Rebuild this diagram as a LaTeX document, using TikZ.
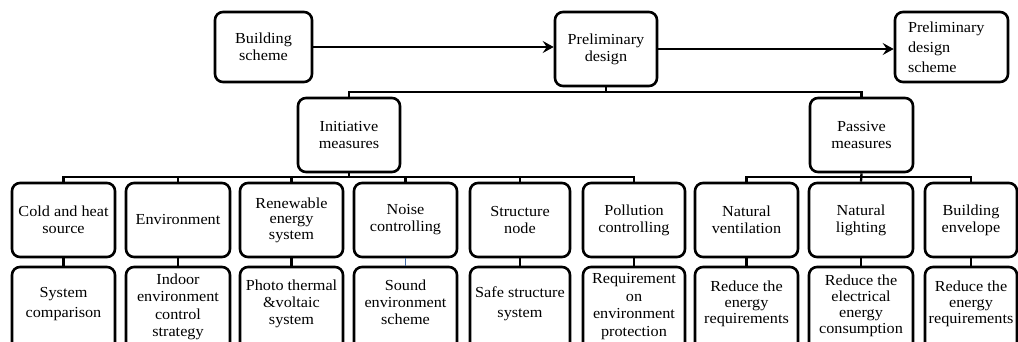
\documentclass[tikz,border=0pt]{standalone}
\usepackage{fontspec}
\setmainfont{Liberation Serif}[FakeStretch=1.06]
\usetikzlibrary{arrows.meta}
\newcommand\fsz[1]{\fontsize{15.3}{#1}\selectfont}
\definecolor{ticblue}{RGB}{70,110,170}
\tikzset{
  box/.style={draw, line width=2.6pt, rounded corners=8pt, align=center, inner sep=2pt, font=\fsz{17}},
  rowone/.style={box, minimum height=74pt},
  rowtwo/.style={box, minimum height=90pt, text depth=19pt},
  link/.style={line width=2.3pt},
  arr/.style={line width=2.8pt, -{Stealth[length=11pt,width=12pt,inset=4pt]}}
}
\begin{document}
\begin{tikzpicture}[x=1pt,y=-1pt]
\useasboundingbox (0,0) rectangle (1018,341);
\clip (0,0) rectangle (1018,341);
% top row
\node[box, minimum width=97pt, minimum height=70pt] (bs) at (263.5,47) {Building\\scheme};
\node[box, minimum width=102pt, minimum height=74pt] (pd) at (606,49) {Preliminary\\design};
\node[box, minimum width=113pt, minimum height=70pt, align=left, text width=87pt, inner xsep=13pt, font=\fsz{20}] (pds) at (951.5,47) {Preliminary\\design\\scheme};
% second level
\node[box, minimum width=102pt, minimum height=74pt] (in) at (349,135) {Initiative\\measures};
\node[box, minimum width=103pt, minimum height=74pt] (pm) at (861.5,135) {Passive\\measures};
% row one
\node[rowone, minimum width=103pt, font=\fsz{17}] (a1) at (63.5,220) {Cold and heat\\source};
\node[rowone, minimum width=104pt] (a2) at (178,220) {Environment};
\node[rowone, minimum width=103pt, font=\fsz{15.5}] (a3) at (291.5,220) {Renewable\\energy\\system};
\node[rowone, minimum width=103pt] (a4) at (405.5,220) {Noise\\controlling};
\node[rowone, minimum width=100pt] (a5) at (520,220) {Structure\\node};
\node[rowone, minimum width=102pt] (a6) at (634,220) {Pollution\\controlling};
\node[rowone, minimum width=103pt] (a7) at (746.5,220) {Natural\\ventilation};
\node[rowone, minimum width=104pt] (a8) at (861,220) {Natural\\lighting};
\node[rowone, minimum width=92pt] (a9) at (971,220) {Building\\envelope};
% row two
\node[rowtwo, minimum width=103pt, font=\fsz{20}] (b1) at (63.5,312) {System\\comparison};
\node[rowtwo, minimum width=104pt, font=\fsz{17.5}, text depth=14pt] (b2) at (178,312) {Indoor\\environment\\control\\strategy};
\node[rowtwo, minimum width=103pt, font=\fsz{17}] (b3) at (291.5,312) {Photo thermal\\\&voltaic\\system};
\node[rowtwo, minimum width=103pt, font=\fsz{17}] (b4) at (405.5,312) {Sound\\environment\\scheme};
\node[rowtwo, minimum width=100pt, font=\fsz{20}] (b5) at (520,312) {Safe structure\\system};
\node[rowtwo, minimum width=102pt, font=\fsz{17.8}, text depth=14pt] (b6) at (634,312) {Requirement\\on\\environment\\protection};
\node[rowtwo, minimum width=103pt, font=\fsz{16}] (b7) at (746.5,312) {Reduce the\\energy\\requirements};
\node[rowtwo, minimum width=104pt, font=\fsz{16}, text depth=16pt] (b8) at (861,312) {Reduce the\\electrical\\energy\\consumption};
\node[rowtwo, minimum width=92pt, font=\fsz{16}] (b9) at (971,312) {Reduce the\\energy\\requirements};
% coordinates for buses
\coordinate (topbus) at (0,92);
\coordinate (lowbus) at (0,177);
% arrows
\draw[arr] (bs.east) -- (bs.east -| pd.west);
\draw[arr] (pd.east) -- (pd.east -| pds.west);
% top tree
\draw[link] (pd.south) -- (pd.south |- topbus);
\draw[link] (in.north) -- (in.north |- topbus) -- (pm.north |- topbus) -- (pm.north);
% initiative bus
\draw[link] (in.south) -- (in.south |- lowbus);
\draw[link] (a1.north) -- (a1.north |- lowbus) -- (a6.north |- lowbus) -- (a6.north);
\foreach \n in {a2,a3,a4,a5} \draw[link] (\n.north) -- (\n.north |- lowbus);
% passive bus
\draw[link] (pm.south) -- (a8.north);
\draw[link] (a7.north) -- (a7.north |- lowbus) -- (a9.north |- lowbus) -- (a9.north);
% row connectors
\foreach \i in {1,2,3,5,6,7,8,9} \draw[link] (a\i.south) -- (b\i.north);
\draw[link, ticblue, line width=1.6pt] (a4.south) -- (b4.north);
\end{tikzpicture}
\end{document}
